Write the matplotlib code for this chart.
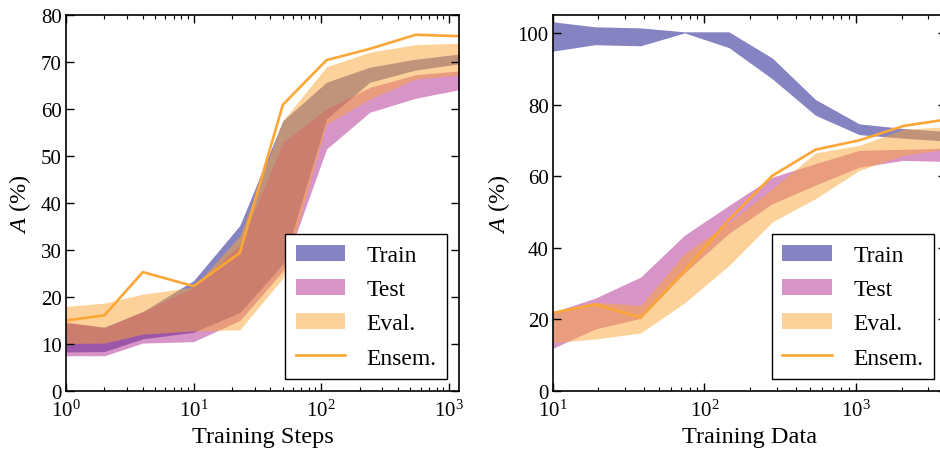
import matplotlib
matplotlib.use("Agg")
import matplotlib.pyplot as plt
import numpy as np

plt.rcParams['font.family'] = ['Liberation Serif', 'DejaVu Serif']
plt.rcParams['mathtext.fontset'] = 'custom'
plt.rcParams['mathtext.rm'] = 'Liberation Serif'
plt.rcParams['mathtext.it'] = 'Liberation Serif:italic'

# ---------- left panel: Training Steps ----------
steps = [1, 2, 4, 10, 23, 50, 110, 240, 550, 1200]
train_lo_s = [8.3, 8.4, 11.1, 12.5, 16.7, 27.0, 57.9, 65.7, 68.3, 69.6]
train_hi_s = [14.5, 13.6, 16.9, 23.5, 35.2, 57.5, 65.7, 68.9, 70.6, 71.7]
test_lo_s = [7.5, 7.5, 10.2, 10.5, 15.0, 25.5, 51.5, 59.3, 62.3, 64.1]
test_hi_s = [14.7, 13.5, 16.9, 22.0, 31.0, 52.9, 60.0, 64.6, 67.3, 68.1]
eval_lo_s = [10.1, 10.2, 12.1, 12.8, 13.0, 24.0, 56.8, 62.1, 66.4, 67.2]
eval_hi_s = [18.0, 18.7, 20.6, 22.1, 33.0, 57.5, 69.0, 72.1, 73.7, 74.0]
ensem_s = [15.0, 16.1, 25.3, 22.3, 29.4, 60.9, 70.4, 72.8, 75.8, 75.5]

# ---------- right panel: Training Data ----------
data_n = [10, 19, 38, 74, 145, 280, 540, 1050, 2050, 3900]
train_lo_d = [94.9, 96.7, 96.4, 100.0, 95.9, 87.2, 77.0, 71.6, 70.6, 69.8]
train_hi_d = [103.1, 101.7, 101.4, 100.3, 100.3, 93.0, 81.4, 74.6, 73.3, 72.5]
test_lo_d = [11.9, 17.3, 20.3, 33.0, 44.0, 52.3, 57.5, 62.5, 64.4, 64.1]
test_hi_d = [22.0, 25.9, 31.8, 43.5, 51.8, 59.7, 63.5, 67.2, 67.5, 67.8]
eval_lo_d = [13.5, 14.5, 16.2, 24.6, 35.0, 47.2, 53.7, 61.6, 65.8, 67.5]
eval_hi_d = [21.5, 24.8, 23.9, 38.4, 47.0, 56.5, 66.5, 68.6, 73.1, 73.8]
ensem_d = [21.8, 24.2, 20.5, 33.5, 47.8, 60.1, 67.4, 70.0, 74.0, 75.8]

c_train = plt.cm.plasma(0.0)
c_test = plt.cm.plasma(0.4)
c_eval = plt.cm.plasma(0.8)
c_line = plt.cm.plasma(0.8)

fig = plt.figure(figsize=(9.4, 4.56), dpi=100)
W, H = 940, 456
ax1 = fig.add_axes([66 / W, (H - 392) / H, 393 / W, 376 / H])
ax2 = fig.add_axes([552.7 / W, (H - 392) / H, 393 / W, 376 / H])


def draw(ax, x, tl, th, sl, sh, el, eh, en, xlabel):
    ax.fill_between(x, tl, th, color=c_train, alpha=0.5, lw=0, label='Train')
    ax.fill_between(x, sl, sh, color=c_test, alpha=0.5, lw=0, label='Test')
    ax.fill_between(x, el, eh, color=c_eval, alpha=0.5, lw=0, label='Eval.')
    ax.plot(x, en, color=c_line, lw=1.9, label='Ensem.')
    ax.set_xscale('log')
    ax.set_xlim(x[0], x[-1])
    ax.set_xlabel(xlabel, fontsize=17.5, labelpad=4)
    ax.set_ylabel(r'$A$ (%)', fontsize=17.5)
    ax.tick_params(which='both', direction='in', top=True, right=True,
                   labelsize=15)
    ax.tick_params(axis='y', pad=3)
    ax.tick_params(axis='x', pad=6)
    ax.tick_params(which='major', length=6, width=1)
    ax.tick_params(which='minor', length=3, width=0.8)
    for s in ax.spines.values():
        s.set_linewidth(1.2)
    leg = ax.legend(loc='lower right', fontsize=17, frameon=True, fancybox=False,
                    edgecolor='black', framealpha=1, handlelength=2.1,
                    handleheight=0.65, labelspacing=0.55, handletextpad=0.9,
                    borderpad=0.45, borderaxespad=0.5)
    leg.get_frame().set_linewidth(1.0)


draw(ax1, steps, train_lo_s, train_hi_s, test_lo_s, test_hi_s,
     eval_lo_s, eval_hi_s, ensem_s, 'Training Steps')
ax1.set_ylim(0, 80)
ax1.set_yticks(np.arange(0, 81, 10))

draw(ax2, data_n, train_lo_d, train_hi_d, test_lo_d, test_hi_d,
     eval_lo_d, eval_hi_d, ensem_d, 'Training Data')
ax2.set_ylim(0, 105)
ax2.set_yticks(np.arange(0, 101, 20))

ax1.yaxis.set_label_coords(-0.084, 0.5)
ax2.yaxis.set_label_coords(-0.104, 0.5)

fig.savefig('out.png', dpi=100)
